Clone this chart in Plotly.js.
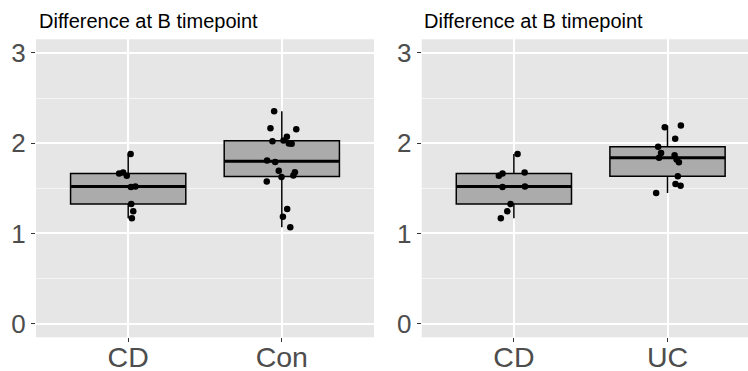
<!DOCTYPE html>
<html>
<head>
<meta charset="utf-8">
<script src="https://cdn.plot.ly/plotly-3.0.1.min.js"></script>
<style>html,body{margin:0;padding:0;background:#fff;}#chart{width:748px;height:371px;}</style>
</head>
<body>
<div id="chart"></div>
<script>
const panelTitle = 'Difference at B timepoint';
const categoriesLeft = ['CD', 'Con'];
const categoriesRight = ['CD', 'UC'];
const yTickVals = [0, 1, 2, 3];

const cdValues = [1.88, 1.675, 1.665, 1.64, 1.52, 1.515, 1.325, 1.245, 1.168];
const cdJitterLeft = [0.016, -0.033, -0.059, -0.009, 0.047, 0.018, 0.020, 0.033, 0.024];
const cdJitterRight = [0.024, 0.070, -0.074, -0.098, 0.072, -0.074, -0.022, -0.043, -0.085];

const conValues = [2.354, 2.165, 2.154, 2.021, 2.029, 2.07, 1.996, 1.992, 1.807, 1.79, 1.693, 1.626, 1.677, 1.641, 1.574, 1.271, 1.186, 1.068];
const conJitter = [-0.050, -0.074, 0.094, -0.061, 0.011, 0.033, 0.046, 0.064, -0.096, -0.043, -0.020, -0.002, 0.085, 0.075, -0.098, 0.035, 0.007, 0.055];

const ucValues = [2.177, 2.195, 2.048, 1.959, 1.892, 1.838, 1.866, 1.818, 1.789, 1.633, 1.549, 1.527, 1.449];
const ucJitter = [-0.018, 0.087, 0.050, -0.061, -0.042, -0.055, 0.046, 0.059, 0.074, 0.067, 0.052, 0.085, -0.074];

function quantile(arr, p) {
  const s = arr.slice().sort((a, b) => a - b);
  const h = (s.length - 1) * p;
  const lo = Math.floor(h), hi = Math.ceil(h);
  return s[lo] + (h - lo) * (s[hi] - s[lo]);
}
function stats(arr) {
  const q1 = quantile(arr, 0.25), med = quantile(arr, 0.5), q3 = quantile(arr, 0.75);
  const iqr = q3 - q1;
  const inside = arr.filter(v => v >= q1 - 1.5 * iqr && v <= q3 + 1.5 * iqr);
  return {q1, med, q3, lo: Math.min(...inside), hi: Math.max(...inside)};
}

const boxWidth = 0.75;
const traces = [];
function addGroup(values, jitter, pos, xa, ya) {
  const st = stats(values);
  traces.push({
    type: 'box', x: [pos], q1: [st.q1], median: [st.med], q3: [st.q3],
    lowerfence: [st.lo], upperfence: [st.hi], width: boxWidth, whiskerwidth: 0,
    fillcolor: '#ABABAB', line: {color: '#000', width: 1.5}, boxpoints: false,
    xaxis: xa, yaxis: ya, showlegend: false, hoverinfo: 'skip'
  });
  traces.push({
    type: 'scatter', mode: 'lines', x: [pos - boxWidth / 2, pos + boxWidth / 2], y: [st.med, st.med],
    line: {color: '#000', width: 3}, xaxis: xa, yaxis: ya, showlegend: false, hoverinfo: 'skip'
  });
  traces.push({
    type: 'scatter', mode: 'markers', x: values.map((v, i) => pos + jitter[i]), y: values,
    marker: {color: '#000', size: 6.5}, xaxis: xa, yaxis: ya, showlegend: false, hoverinfo: 'skip'
  });
}
addGroup(cdValues, cdJitterLeft, 1, 'x', 'y');
addGroup(conValues, conJitter, 2, 'x', 'y');
addGroup(cdValues, cdJitterRight, 1, 'x2', 'y2');
addGroup(ucValues, ucJitter, 2, 'x2', 'y2');

const W = 748, H = 371;
const fontFam = 'Liberation Sans, Arial, Helvetica, sans-serif';
const yDom = [(H - 337.3) / H, (H - 39.3) / H];
function xAxis(dom, range, cats, anchor) {
  return {
    domain: dom, range: range, anchor: anchor, tickvals: [1, 2], ticktext: cats,
    showgrid: true, gridcolor: '#FFFFFF', gridwidth: 2, zeroline: false, showline: false,
    ticks: 'outside', ticklen: 4, tickwidth: 1, tickcolor: '#333333', ticklabelstandoff: -10,
    tickfont: {family: fontFam, size: 28.5, color: '#4D4D4D'}, fixedrange: true
  };
}
function yAxis(anchor) {
  return {
    domain: yDom, range: [-0.15, 3.15], anchor: anchor, tickvals: yTickVals,
    showgrid: true, gridcolor: '#FFFFFF', gridwidth: 2, zeroline: false, showline: false,
    minor: {dtick: 0.5, showgrid: true, gridcolor: '#F5F5F5', gridwidth: 1, ticks: ''},
    ticks: 'outside', ticklen: 4, tickwidth: 1, tickcolor: '#333333',
    tickfont: {family: fontFam, size: 26, color: '#4D4D4D'}, fixedrange: true
  };
}
const leftDom = [36 / W, 374 / W];
const rightDom = [421.7 / W, 1];
const unitPx = (374 - 36) / 2.2;
const layout = {
  width: W, height: H, margin: {l: 0, r: 0, t: 0, b: 0},
  paper_bgcolor: '#FFFFFF', plot_bgcolor: '#E6E6E6',
  font: {family: fontFam},
  xaxis: xAxis(leftDom, [0.4, 2.6], categoriesLeft, 'y'),
  yaxis: yAxis('x'),
  xaxis2: xAxis(rightDom, [0.4, 0.4 + (W - 421.7) / unitPx], categoriesRight, 'y2'),
  yaxis2: yAxis('x2'),
  annotations: [
    {text: panelTitle, xref: 'paper', yref: 'paper', x: 36.5 / W, y: 1 - 21 / H, xanchor: 'left', yanchor: 'middle', showarrow: false, font: {family: fontFam, size: 20, color: '#000'}},
    {text: panelTitle, xref: 'paper', yref: 'paper', x: 421.7 / W, y: 1 - 21 / H, xanchor: 'left', yanchor: 'middle', showarrow: false, font: {family: fontFam, size: 20, color: '#000'}}
  ]
};
Plotly.newPlot('chart', traces, layout, {displayModeBar: false, staticPlot: true});
</script>
</body>
</html>
